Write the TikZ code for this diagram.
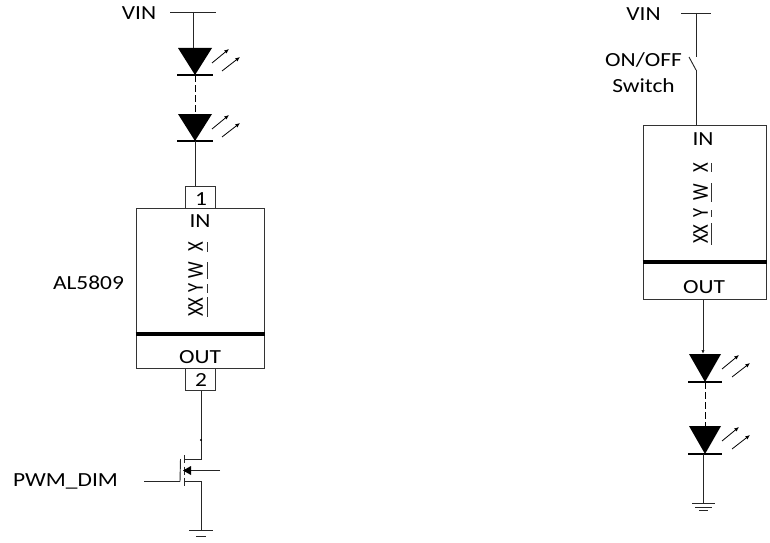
\documentclass[tikz,border=0pt]{standalone}
\usepackage{fontspec}
\setmainfont{Carlito}
\usetikzlibrary{arrows.meta}
\tikzset{
  x=0.75pt,y=-0.75pt,
  wire/.style={draw=black!85,line width=0.7pt},
  lbl/.style={inner sep=0pt,font=\fontsize{15}{17}\selectfont,xscale=1.17},
  boxx/.style={draw=black!80,line width=0.75pt,fill=white,inner sep=0pt},
  rot/.style={inner sep=0pt,font=\fontsize{17}{19}\selectfont,rotate=90,xscale=.82},
  uline/.style={draw=black!80,line width=0.6pt},
  thick bar/.style={draw=black,line width=3pt},
  ray/.style={draw=black,line width=0.6pt,-{Latex[length=3.5pt,width=3pt]}},
  dashw/.style={draw=black,line width=0.7pt,dash pattern=on 5pt off 2.5pt},
}
% LED: #1 name, #2 centre x, #3 top y, #4 half width, #5 height
\newcommand\ledsym[5]{%
  \coordinate (#1t) at (#2,#3);
  \coordinate (#1b) at (#2,#3+#5);
  \fill[black] (#2-#4,#3) -- (#2+#4,#3) -- (#2,#3+#5) -- cycle;
  \draw[black,line width=1pt] (#2-#4-1,#3+#5) -- (#2+#4+1,#3+#5);
  \draw[ray] (#2+17,#3+15) -- (#2+34,#3+1);
  \draw[ray] (#2+27,#3+23) -- (#2+45,#3+9);
}
\begin{document}
\begin{tikzpicture}
\useasboundingbox (0,0) rectangle (770,542);
% ---------- left circuit
\node[lbl] (vinL) at (139,13) {VIN};
\coordinate (vLa) at (170,12);
\coordinate (vLb) at (216,12);
\coordinate (vLc) at (193,12);
\draw[wire] (vLa) -- (vLb);
\ledsym{ledA}{195}{48}{17}{27}
\ledsym{ledB}{195}{114}{17}{27}
\draw[wire] (vLc) -- (193,48);
\draw[dashw] (ledAb) -- (ledBt);
\node[boxx,minimum width=22.5pt,minimum height=16.5pt] (pinA) at (200,197) {};
\node[lbl] at (201,199) {1};
\node[boxx,minimum width=22.5pt,minimum height=16.5pt] (pinB) at (200,379) {};
\node[lbl] at (201,380) {2};
\node[boxx,minimum width=96pt,minimum height=120pt] (chipL) at (200,288) {};
\draw[thick bar] (chipL.west |- 0,334) -- (chipL.east |- 0,334);
\node[lbl] (inL) at (200,221) {IN};
\node[lbl] (outL) at (200,357) {OUT};
\node[rot] at (195.5,307) {XX};
\node[rot] at (195.5,288) {Y};
\node[rot] at (195.5,270.5) {W};
\node[rot] at (195.5,247) {X};
\draw[uline] (207,297) -- (207,317);
\draw[uline] (207,284) -- (207,293);
\draw[uline] (207,262) -- (207,279);
\draw[uline] (207,242) -- (207,252);
\node[lbl] (al) at (88.5,283) {AL5809};
\draw[wire] (ledBb) -- (ledBb |- pinA.north);
\coordinate (drn) at (201,459);
\coordinate (src) at (201,481.5);
\coordinate (gnL) at (201,530);
\coordinate (gateEnd) at (180,481.5);
\draw[wire] (pinB.south -| drn) -- (drn) -- (184,459);
\fill[black] (201,440) circle (1.1);
\draw[wire] (184,481.5) -- (src) -- (gnL);
\draw[wire] (184,455) -- (184,463);
\draw[wire] (184,466.5) -- (184,474.5);
\draw[wire] (184,477.5) -- (184,485.5);
\draw[wire] (180.5,459) -- (gateEnd);
\node[lbl] (pwm) at (65.5,481) {PWM\_DIM};
\coordinate (gateIn) at (144,481.5);
\draw[wire] (gateIn) -- (gateEnd);
\coordinate (bulk) at (220,470.5);
\draw[wire] (bulk) -- (190,470.5);
\fill[black] (183,470.5) -- (191,466) -- (191,475) -- cycle;
\draw[wire] (189,530) -- (213,530);
\draw[wire] (196,536) -- (206,536);
% ---------- right circuit
\node[lbl] (vinR) at (643.5,14) {VIN};
\coordinate (vRa) at (681,13);
\coordinate (vRb) at (711,13);
\coordinate (vRc) at (696,13);
\draw[wire] (vRa) -- (vRb);
\coordinate (swA) at (696,57);
\coordinate (swB) at (696,70);
\coordinate (swC) at (689,57);
\draw[wire] (vRc) -- (swA);
\draw[wire] (swC) -- (swB);
\node[lbl] (onoff) at (643.5,60) {ON/OFF};
\node[lbl] (swt) at (643.5,86) {Switch};
\node[boxx,minimum width=92.25pt,minimum height=130.5pt] (chipR) at (704.5,212) {};
\draw[wire] (swB) -- (swB |- chipR.north);
\draw[thick bar] (chipR.west |- 0,262) -- (chipR.east |- 0,262);
\node[lbl] (inR) at (703,139) {IN};
\node[lbl] (outR) at (704,287) {OUT};
\node[rot] at (700.5,234) {XX};
\node[rot] at (700.5,213) {Y};
\node[rot] at (700.5,192.5) {W};
\node[rot] at (700.5,168) {X};
\draw[uline] (711,223) -- (711,245);
\draw[uline] (711,210) -- (711,217);
\draw[uline] (711,183) -- (711,202);
\draw[uline] (711,163) -- (711,172);
\ledsym{ledC}{705}{354}{16}{28}
\ledsym{ledD}{705}{426}{16}{28}
\draw[wire,-{Latex[length=3pt,width=2.5pt]}] (chipR.south -| 703,0) -- (703,354);
\draw[dashw] (ledCb) -- (ledDt);
\coordinate (gnR) at (703,503);
\draw[wire] (703,454) -- (gnR);
\draw[wire] (692,503) -- (715,503);
\draw[wire] (695,507) -- (712,507);
\draw[wire] (699,510) -- (708,510);
\end{tikzpicture}
\end{document}
